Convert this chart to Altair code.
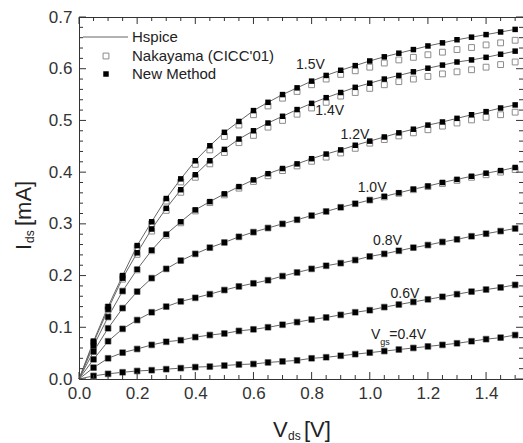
import altair as alt
import pandas as pd

FONT = "Liberation Sans, Arial, sans-serif"

# ---------------- data ----------------
vds = [0.05, 0.10, 0.15, 0.20, 0.25, 0.30, 0.35, 0.40, 0.45, 0.50,
       0.55, 0.60, 0.65, 0.70, 0.75, 0.80, 0.85, 0.90, 0.95, 1.00,
       1.05, 1.10, 1.15, 1.20, 1.25, 1.30, 1.35, 1.40, 1.45, 1.50]

vgs = ["0.4", "0.6", "0.8", "1.0", "1.2", "1.4", "1.5"]

hs_04 = [0.006, 0.010, 0.013, 0.0155, 0.017, 0.019, 0.021, 0.023, 0.024, 0.026,
         0.028, 0.029, 0.032, 0.034, 0.036, 0.040, 0.042, 0.045, 0.048, 0.051,
         0.054, 0.057, 0.060, 0.063, 0.066, 0.069, 0.073, 0.077, 0.080, 0.085]
hs_06 = [0.022, 0.040, 0.051, 0.058, 0.066, 0.072, 0.075, 0.081, 0.085, 0.088,
         0.093, 0.096, 0.100, 0.105, 0.110, 0.115, 0.119, 0.124, 0.129, 0.133,
         0.139, 0.144, 0.149, 0.154, 0.159, 0.164, 0.169, 0.173, 0.177, 0.182]
hs_08 = [0.038, 0.073, 0.097, 0.114, 0.129, 0.140, 0.150, 0.157, 0.164, 0.172,
         0.179, 0.185, 0.191, 0.199, 0.206, 0.213, 0.219, 0.224, 0.230, 0.237,
         0.242, 0.248, 0.254, 0.259, 0.265, 0.270, 0.276, 0.281, 0.286, 0.291]
hs_10 = [0.053, 0.098, 0.137, 0.169, 0.195, 0.213, 0.229, 0.242, 0.254, 0.264,
         0.275, 0.284, 0.292, 0.300, 0.308, 0.316, 0.324, 0.332, 0.339, 0.346,
         0.353, 0.360, 0.367, 0.373, 0.380, 0.386, 0.392, 0.398, 0.403, 0.409]
hs_12 = [0.064, 0.120, 0.170, 0.212, 0.249, 0.280, 0.304, 0.327, 0.343, 0.358,
         0.372, 0.385, 0.397, 0.407, 0.416, 0.426, 0.435, 0.443, 0.452, 0.460,
         0.468, 0.476, 0.483, 0.491, 0.497, 0.504, 0.511, 0.517, 0.524, 0.530]
hs_14 = [0.070, 0.135, 0.195, 0.244, 0.290, 0.330, 0.366, 0.395, 0.422, 0.444,
         0.464, 0.480, 0.495, 0.508, 0.521, 0.533, 0.544, 0.554, 0.564, 0.572,
         0.580, 0.587, 0.594, 0.601, 0.607, 0.613, 0.617, 0.622, 0.628, 0.634]
hs_15 = [0.073, 0.140, 0.200, 0.258, 0.304, 0.349, 0.387, 0.422, 0.451, 0.477,
         0.498, 0.519, 0.535, 0.550, 0.563, 0.576, 0.587, 0.597, 0.606, 0.615,
         0.623, 0.630, 0.637, 0.644, 0.650, 0.656, 0.661, 0.666, 0.671, 0.676]

nk_04 = hs_04
nk_06 = hs_06
nk_08 = hs_08
nk_10 = [0.053, 0.098, 0.137, 0.169, 0.195, 0.213, 0.229, 0.242, 0.254, 0.264,
         0.275, 0.284, 0.292, 0.300, 0.308, 0.316, 0.324, 0.332, 0.339, 0.346,
         0.352, 0.359, 0.366, 0.372, 0.378, 0.384, 0.390, 0.395, 0.400, 0.405]
nk_12 = [0.064, 0.120, 0.170, 0.211, 0.248, 0.278, 0.302, 0.325, 0.341, 0.356,
         0.369, 0.382, 0.393, 0.403, 0.412, 0.421, 0.429, 0.437, 0.446, 0.456,
         0.463, 0.470, 0.476, 0.482, 0.489, 0.495, 0.501, 0.506, 0.511, 0.516]
nk_14 = [0.069, 0.134, 0.193, 0.241, 0.286, 0.326, 0.361, 0.390, 0.416, 0.438,
         0.457, 0.471, 0.487, 0.500, 0.512, 0.524, 0.535, 0.547, 0.554, 0.562,
         0.569, 0.575, 0.580, 0.585, 0.590, 0.594, 0.598, 0.603, 0.608, 0.613]
nk_15 = [0.072, 0.139, 0.198, 0.254, 0.300, 0.344, 0.381, 0.415, 0.443, 0.469,
         0.491, 0.511, 0.528, 0.543, 0.556, 0.569, 0.580, 0.589, 0.596, 0.603,
         0.611, 0.617, 0.622, 0.627, 0.632, 0.637, 0.641, 0.646, 0.650, 0.655]

# New Method coincides with Hspice in the figure
nm_04, nm_06, nm_08, nm_10, nm_12, nm_14, nm_15 = hs_04, hs_06, hs_08, hs_10, hs_12, hs_14, hs_15

hspice = [hs_04, hs_06, hs_08, hs_10, hs_12, hs_14, hs_15]
nakayama = [nk_04, nk_06, nk_08, nk_10, nk_12, nk_14, nk_15]
newmethod = [nm_04, nm_06, nm_08, nm_10, nm_12, nm_14, nm_15]

# curve labels (text, anchor Vds, anchor Ids)
curve_labels = ["1.5V", "1.4V", "1.2V", "1.0V", "0.8V", "0.6V"]
curve_label_x = [0.796, 0.862, 0.949, 1.008, 1.061, 1.121]
curve_label_y = [0.607, 0.518, 0.471, 0.370, 0.267, 0.164]

x_major = [0.0, 0.2, 0.4, 0.6, 0.8, 1.0, 1.2, 1.4]
x_minor = [0.05, 0.10, 0.15, 0.25, 0.30, 0.35, 0.45, 0.50, 0.55, 0.65, 0.70, 0.75,
           0.85, 0.90, 0.95, 1.05, 1.10, 1.15, 1.25, 1.30, 1.35, 1.45, 1.50]
y_major = [0.0, 0.1, 0.2, 0.3, 0.4, 0.5, 0.6, 0.7]
y_minor = [0.02, 0.04, 0.06, 0.08, 0.12, 0.14, 0.16, 0.18, 0.22, 0.24, 0.26, 0.28,
           0.32, 0.34, 0.36, 0.38, 0.42, 0.44, 0.46, 0.48, 0.52, 0.54, 0.56, 0.58,
           0.62, 0.64, 0.66, 0.68]

# ---------------- tables ----------------
line_rows, nk_rows, nm_rows = [], [], []
for g, hs, nk, nm in zip(vgs, hspice, nakayama, newmethod):
    line_rows.append({"vgs": g, "vds": 0.0, "ids": 0.0})
    for v, a, b, c in zip(vds, hs, nk, nm):
        line_rows.append({"vgs": g, "vds": v, "ids": a})
        nk_rows.append({"vgs": g, "vds": v, "ids": b})
        nm_rows.append({"vgs": g, "vds": v, "ids": c})
df_line = pd.DataFrame(line_rows)
df_nk = pd.DataFrame(nk_rows)
df_nm = pd.DataFrame(nm_rows)
df_lab = pd.DataFrame({"t": curve_labels, "x": curve_label_x, "y": curve_label_y})

W, H = 444, 362
XDOM = [0, 1.527]
YDOM = [0, 0.7]

xs = alt.Scale(domain=XDOM, nice=False, zero=False)
ys = alt.Scale(domain=YDOM, nice=False, zero=False)

axis_common = dict(ticks=False, tickSize=0, domain=False, grid=False, format=".1f",
                   labelFontSize=17, labelColor="#333333", labelFont=FONT,
                   labelFlush=False, labelOverlap=False, title=None)

lines = alt.Chart(df_line).mark_line(color="#666666", strokeWidth=1).encode(
    x=alt.X("vds:Q", scale=xs, axis=alt.Axis(values=x_major, labelPadding=6, **axis_common)),
    y=alt.Y("ids:Q", scale=ys, axis=alt.Axis(values=y_major, labelPadding=7, **axis_common)),
    detail="vgs:N",
)

open_sq = alt.Chart(df_nk).mark_point(shape="square", filled=False, color="#8c8c8c",
                                      size=34, strokeWidth=1, opacity=1).encode(
    x=alt.X("vds:Q", scale=xs), y=alt.Y("ids:Q", scale=ys))

filled_sq = alt.Chart(df_nm).mark_point(shape="square", filled=True, color="#000000",
                                        size=30, opacity=1).encode(
    x=alt.X("vds:Q", scale=xs), y=alt.Y("ids:Q", scale=ys))

labels = alt.Chart(df_lab).mark_text(font=FONT, fontSize=14, color="#222222",
                                     align="center", baseline="middle").encode(
    x=alt.X("x:Q", scale=xs), y=alt.Y("y:Q", scale=ys), text="t:N")

# V_gs=0.4V label with subscript
df_vgs = pd.DataFrame({"x": [1.036], "y": [0.085]})
vgs_V = alt.Chart(df_vgs).mark_text(font=FONT, fontSize=14, color="#222222", align="right",
                                    baseline="middle").encode(
    x=alt.X("x:Q", scale=xs), y=alt.Y("y:Q", scale=ys), text=alt.value("V"))
vgs_sub = alt.Chart(df_vgs).mark_text(font=FONT, fontSize=9, color="#222222", align="left",
                                      baseline="middle", dx=0, dy=7).encode(
    x=alt.X("x:Q", scale=xs), y=alt.Y("y:Q", scale=ys), text=alt.value("gs"))
vgs_rest = alt.Chart(df_vgs).mark_text(font=FONT, fontSize=14, color="#222222", align="left",
                                       baseline="middle", dx=9).encode(
    x=alt.X("x:Q", scale=xs), y=alt.Y("y:Q", scale=ys), text=alt.value("=0.4V"))

# inward ticks
TK = "#333333"
def xticks(vals, length):
    d = pd.DataFrame({"v": vals})
    bottom = alt.Chart(d).mark_rule(color=TK, strokeWidth=1).encode(
        x=alt.X("v:Q", scale=xs), y=alt.value(H), y2=alt.value(H - length))
    top = alt.Chart(d).mark_rule(color=TK, strokeWidth=1).encode(
        x=alt.X("v:Q", scale=xs), y=alt.value(0), y2=alt.value(length))
    return [bottom, top]

def yticks(vals, length):
    d = pd.DataFrame({"v": vals})
    left = alt.Chart(d).mark_rule(color=TK, strokeWidth=1).encode(
        y=alt.Y("v:Q", scale=ys), x=alt.value(0), x2=alt.value(length))
    right = alt.Chart(d).mark_rule(color=TK, strokeWidth=1).encode(
        y=alt.Y("v:Q", scale=ys), x=alt.value(W), x2=alt.value(W - length))
    return [left, right]

tick_layers = xticks(x_major, 7) + xticks(x_minor, 4) + yticks(y_major, 7) + yticks(y_minor, 4)

# legend (manual)
one = pd.DataFrame({"k": [0]})
leg_line = alt.Chart(one).mark_rule(color="#666666", strokeWidth=1).encode(
    x=alt.value(4), x2=alt.value(49), y=alt.value(20))
leg_open = alt.Chart(one).mark_point(shape="square", filled=False, color="#8c8c8c",
                                     size=34, strokeWidth=1, opacity=1).encode(
    x=alt.value(27), y=alt.value(39))
leg_fill = alt.Chart(one).mark_point(shape="square", filled=True, color="#000000",
                                     size=30, opacity=1).encode(
    x=alt.value(27), y=alt.value(57))
leg_names = ["Hspice", "Nakayama (CICC'01)", "New Method"]
leg_y = [20, 39, 57]
leg_texts = [alt.Chart(one).mark_text(font=FONT, fontSize=15, color="#222222", align="left",
                                      baseline="middle").encode(
    x=alt.value(53), y=alt.value(yy), text=alt.value(nm)) for nm, yy in zip(leg_names, leg_y)]

# axis titles with subscripts
def txt(s, x, y, size, angle=0):
    kw = dict(font=FONT, fontSize=size, color="#222222", align="left", baseline="alphabetic")
    if angle:
        kw["angle"] = angle
    return alt.Chart(one).mark_text(**kw).encode(x=alt.value(x), y=alt.value(y), text=alt.value(s))

titles = [
    txt("V", 194, 419.5, 22), txt("ds", 209, 423, 12), txt("[V]", 225, 419.5, 22),
    txt("I", -48, 233, 22, 270), txt("ds", -45, 226, 12, 270), txt("[mA]", -48, 209, 22, 270),
]

chart = alt.layer(
    lines, open_sq, filled_sq, labels, vgs_V, vgs_sub, vgs_rest,
    *tick_layers, leg_line, leg_open, leg_fill, *leg_texts, *titles
).properties(
    width=W, height=H,
    autosize=alt.AutoSizeParams(type="none"),
    padding={"left": 79, "top": 17, "right": 0, "bottom": 64},
    background="white",
).configure_view(stroke="#333333", strokeWidth=1)

chart.save("out.html", embed_options={"renderer": "svg", "actions": False})
